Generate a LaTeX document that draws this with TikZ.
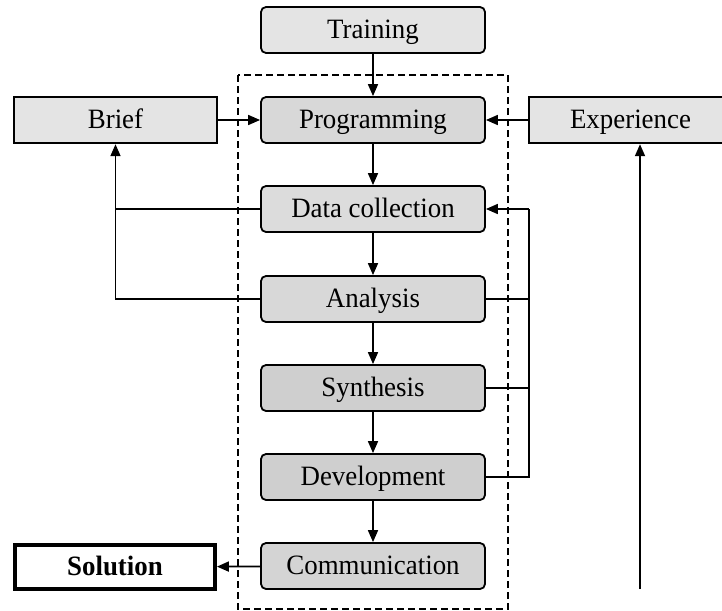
\documentclass[tikz,border=0pt]{standalone}
\usepackage{fontspec}
\setmainfont{Liberation Serif}[FakeStretch=0.96]
\usetikzlibrary{arrows.meta}
\definecolor{fillA}{HTML}{E4E4E4}
\definecolor{fillB}{HTML}{D8D8D8}
\definecolor{fillC}{HTML}{DCDCDC}
\definecolor{fillD}{HTML}{CFCFCF}
\definecolor{fillE}{HTML}{D4D4D4}
\tikzset{
  stage/.style={draw, line width=1.8pt, rounded corners=5pt, minimum width=224pt,
    minimum height=46pt, inner sep=0pt, text height=20pt, text depth=4pt,
    font=\fontsize{28}{33}\selectfont},
  source/.style={draw, line width=2.4pt, fill=fillA, minimum width=203pt,
    minimum height=46pt, inner sep=0pt, text height=20pt, text depth=4pt,
    font=\fontsize{28}{33}\selectfont},
  result/.style={draw, line width=3.8pt, fill=white, minimum width=200pt,
    minimum height=44pt, inner sep=0pt, text height=20pt, text depth=4pt,
    font=\bfseries\fontsize{28}{33}\selectfont},
  flow/.style={line width=1.7pt, -{Triangle[length=12pt,width=10pt]}},
  wire/.style={line width=1.7pt},
  frame/.style={line width=1.5pt, dash pattern=on 7pt off 4pt}
}
\begin{document}
\begin{tikzpicture}[x=1pt,y=-1pt]
\useasboundingbox (0,0) rectangle (722,610);

% process frame
\draw[frame] (238,75) rectangle (508,609);

% process stages
\node[stage, fill=fillA] (train) at (373,30)  {Training};
\node[stage, fill=fillB] (prog)  at (373,120) {Programming};
\node[stage, fill=fillC] (data)  at (373,209) {Data collection};
\node[stage, fill=fillB] (anal)  at (373,299) {Analysis};
\node[stage, fill=fillD] (synth) at (373,388) {Synthesis};
\node[stage, fill=fillD] (devel) at (373,477) {Development};
\node[stage, fill=fillE] (comm)  at (373,566) {Communication};

% inputs and output
\node[source] (brief) at (115.5,120) {Brief};
\node[source] (exper) at (630.5,120) {Experience};
\node[result] (sol)   at (115,567)   {Solution};

\coordinate (rbus) at (529,209);
\coordinate (expfoot) at (640,589);

% main chain
\draw[flow] (train) -- (prog);
\draw[flow] (prog) -- (data);
\draw[flow] (data) -- (anal);
\draw[flow] (anal) -- (synth);
\draw[flow] (synth) -- (devel);
\draw[flow] (devel) -- (comm);
\draw[flow] (brief) -- (prog);
\draw[flow] (exper) -- (prog);
\draw[flow] (comm) -- (sol);

% feedback to the brief
\draw[wire] (data.west) -- (data.west -| brief.south);
\draw[flow] (anal.west) -| (brief.south);

% feedback to data collection
\draw[wire] (anal.east) -- (anal.east -| rbus);
\draw[wire] (synth.east) -- (synth.east -| rbus);
\draw[wire] (devel.east) -| (rbus);
\draw[flow] (rbus) -- (data.east);

% experience build-up
\draw[flow] (expfoot) -- (expfoot |- exper.south);
\end{tikzpicture}
\end{document}
